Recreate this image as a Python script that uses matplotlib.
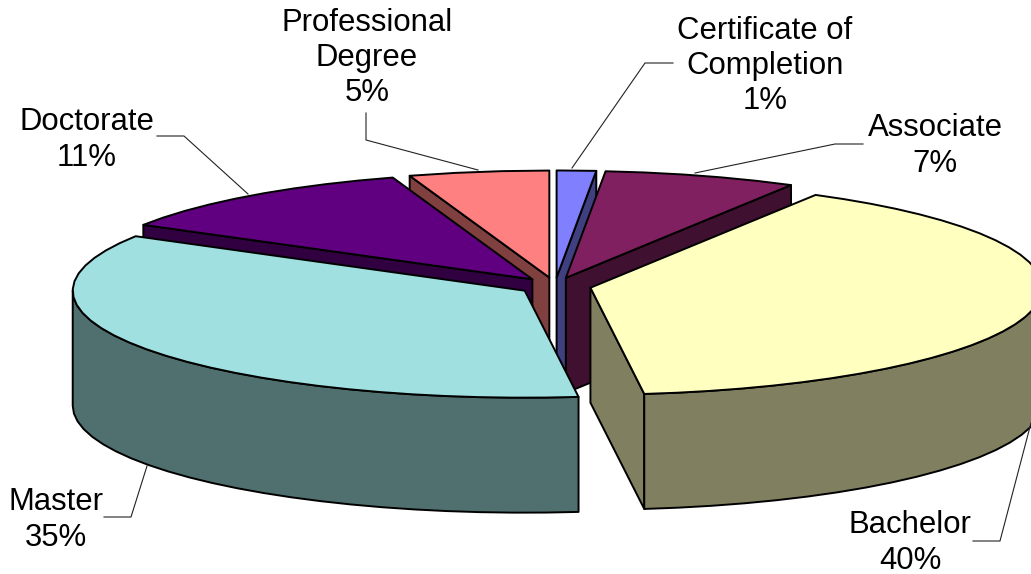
import numpy as np
import matplotlib
matplotlib.use("Agg")
import matplotlib.pyplot as plt
from matplotlib.colors import to_rgb
from matplotlib.patches import Polygon

plt.rcParams["font.family"] = ["Liberation Sans", "DejaVu Sans"]

# Slices clockwise from 12 o'clock, shares
categories = ["Certificate of\nCompletion", "Associate", "Bachelor", "Master", "Doctorate", "Professional\nDegree"]
shares = [1.4, 6.9, 39.8, 35.4, 11.5, 5.0]
pct_labels = ["1%", "7%", "40%", "35%", "11%", "5%"]
colors = ["#8080FF", "#802060", "#FFFFC0", "#A0E0E0", "#600080", "#FF8080"]

# Back to front
draw_order = [5, 0, 1, 4, 2, 3]

label_pos = [(765, 66), (935, 146), (910, 543), (56, 520), (87, 140), (367, 58)]
leaders = [
    [(673, 63), (645, 63), (572, 168)],
    [(863, 144), (835, 144), (695, 173)],
    [(973, 541), (1000, 541), (1031, 423)],
    [(104, 517), (131, 517), (147, 466)],
    [(157, 136), (184, 136), (248, 194)],
    [(366, 113), (366, 140), (478, 170)],
]

CX, CY = 555, 286
RX, RY = 452, 107
EXPLODE = 0.08
DEPTH = 115
LW = 1.4


def rim(cx, cy, a0, a1):
    # coarse steps, the original outline is slightly faceted
    t = np.radians(np.linspace(a0, a1, max(int(abs(a1 - a0) / 4), 2)))
    return np.column_stack([cx + RX * np.sin(t), cy - RY * np.cos(t)])


fig = plt.figure(figsize=(10.31, 5.74), dpi=100)
ax = fig.add_axes([0, 0, 1, 1])
ax.set_xlim(0, 1031)
ax.set_ylim(574, 0)
ax.axis("off")

ends = np.cumsum(shares) / np.sum(shares) * 360
starts = np.concatenate([[0], ends[:-1]])

for i in draw_order:
    a0, a1 = starts[i], ends[i]
    mid = np.radians((a0 + a1) / 2)
    cx = CX + EXPLODE * RX * np.sin(mid)
    cy = CY - EXPLODE * RY * np.cos(mid)
    top = colors[i]
    side = tuple(c * 0.5 for c in to_rgb(top))
    edge = rim(cx, cy, a0, a1)
    apex = np.array([[cx, cy]])
    down = np.array([0, DEPTH])

    # radial walls, only those facing the viewer
    if a0 > 180:
        wall = np.array([apex[0], edge[0], edge[0] + down, apex[0] + down])
        ax.add_patch(Polygon(wall, fc=side, ec="black", lw=LW, joinstyle="round"))
    if a1 < 180:
        wall = np.array([apex[0], edge[-1], edge[-1] + down, apex[0] + down])
        ax.add_patch(Polygon(wall, fc=side, ec="black", lw=LW, joinstyle="round"))

    # outer wall, only the front part
    f0, f1 = max(a0, 90), min(a1, 270)
    if f1 > f0:
        front = rim(cx, cy, f0, f1)
        wall = np.vstack([front, front[::-1] + down])
        ax.add_patch(Polygon(wall, fc=side, ec="black", lw=LW, joinstyle="round"))

    ax.add_patch(Polygon(np.vstack([apex, edge]), fc=top, ec="black", lw=LW, joinstyle="round"))

for name, pct, pos, line in zip(categories, pct_labels, label_pos, leaders):
    ax.text(pos[0], pos[1], f"{name}\n{pct}", ha="center", va="center", fontsize=22.4,
            linespacing=1.22, color="black")
    xs, ys = zip(*line)
    ax.plot(xs, ys, color="#222222", lw=0.8, clip_on=True)

fig.savefig("out.png", dpi=100)
